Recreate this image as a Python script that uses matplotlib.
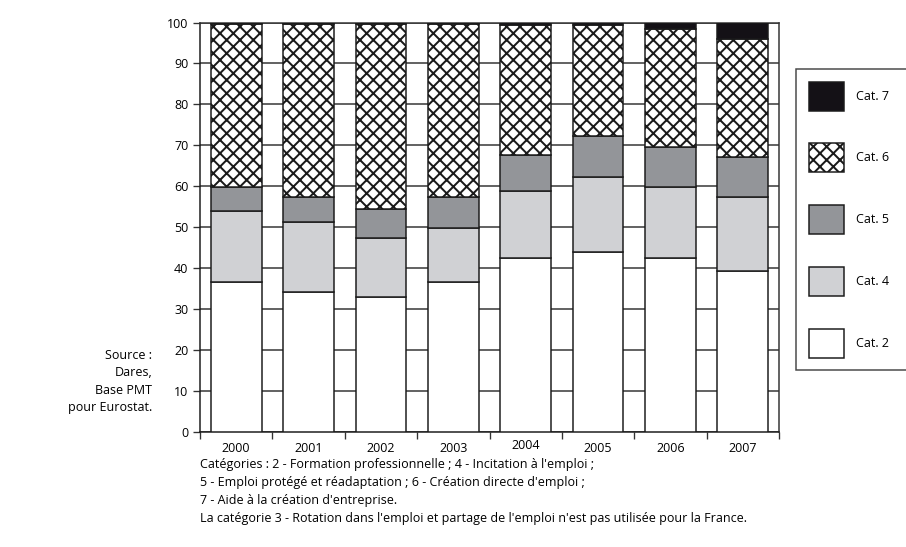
import numpy as np
import matplotlib
matplotlib.use("Agg")
import matplotlib.pyplot as plt

years = ["2000", "2001", "2002", "2003", "2004", "2005", "2006", "2007"]
cat2 = [36.7, 34.3, 32.9, 36.7, 42.6, 43.9, 42.6, 39.2]
cat4 = [17.3, 16.9, 14.4, 13.0, 16.3, 18.4, 17.2, 18.3]
cat5 = [5.9, 6.3, 7.2, 7.6, 8.7, 10.1, 9.8, 9.7]
cat6 = [39.7, 42.2, 45.2, 42.4, 31.9, 27.1, 28.7, 28.7]
cat7 = [0.4, 0.3, 0.3, 0.3, 0.5, 0.5, 1.7, 4.1]

plt.rcParams['font.family'] = ['Open Sans', 'DejaVu Sans']
plt.rcParams['hatch.linewidth'] = 1.2
plt.rcParams['hatch.color'] = '#1a1a1a'

fs = 7.5
fig = plt.figure(figsize=(906 / 120, 547 / 120), dpi=120)
ax = fig.add_axes([200 / 906, 1 - 432 / 547, 579 / 906, 409.5 / 547])

x = np.arange(len(years))
w = 0.7
ec = '#1a1a1a'
series = [
    (cat2, dict(color='white'), 'Cat. 2'),
    (cat4, dict(color='#d0d1d4'), 'Cat. 4'),
    (cat5, dict(color='#939599'), 'Cat. 5'),
    (cat6, dict(color='white', hatch='xxx'), 'Cat. 6'),
    (cat7, dict(color='#141116'), 'Cat. 7'),
]
bottom = np.zeros(len(years))
handles = []
for vals, style, lab in series:
    b = ax.bar(x, vals, w, bottom=bottom, edgecolor=ec, linewidth=0.9,
               label=lab, zorder=3, **style)
    handles.append(b)
    bottom += np.array(vals)

ax.set_xlim(-0.5, len(years) - 0.5)
ax.set_ylim(0, 100)
ax.set_yticks(np.arange(0, 101, 10))
ax.yaxis.grid(True, color='#333333', linewidth=0.9, zorder=0)
ax.set_axisbelow(True)
ax.tick_params(axis='y', direction='out', length=4, width=0.8, labelsize=fs,
               pad=3, color='#333333')

ax.set_xticks(np.arange(-0.5, len(years), 1))
ax.set_xticklabels([])
ax.set_xticks(x, minor=True)
ax.set_xticklabels(years, minor=True)
ax.tick_params(axis='x', which='major', direction='out', length=4, width=0.8,
               color='#333333')
ax.tick_params(axis='x', which='minor', length=0, labelsize=fs, pad=6)
# 2004 label sits a little higher in the original
for t in ax.xaxis.get_minorticklabels():
    if t.get_text() == "2004":
        t.set_y(0.008)

for s in ax.spines.values():
    s.set_color('#333333')
    s.set_linewidth(0.9)
ax.spines['left'].set_color('#1a1a1a')
ax.spines['bottom'].set_color('#1a1a1a')

leg = fig.legend(handles[::-1], [h.get_label() for h in handles[::-1]],
                 loc='upper left',
                 bbox_to_anchor=(796 / 906, 0, 118 / 906, 1 - 69 / 547),
                 mode='expand',
                 borderaxespad=0, fontsize=fs, frameon=True, fancybox=False,
                 edgecolor='#1a1a1a', handlelength=2.8, handleheight=3.2,
                 labelspacing=2.62, borderpad=1.0, handletextpad=1.0)
leg.get_frame().set_linewidth(0.9)

src = "Source :\nDares,\nBase PMT\npour Eurostat."
fig.text(152 / 906, 1 - 349 / 547, src, ha='right', va='top', fontsize=fs,
         linespacing=1.45)

cap = ("Catégories : 2 - Formation professionnelle ; 4 - Incitation à l'emploi ;\n"
       "5 - Emploi protégé et réadaptation ; 6 - Création directe d'emploi ;\n"
       "7 - Aide à la création d'entreprise.\n"
       "La catégorie 3 - Rotation dans l'emploi et partage de l'emploi n'est pas utilisée pour la France.")
fig.text(200 / 906, 1 - 458 / 547, cap, ha='left', va='top', fontsize=fs,
         linespacing=1.5)

fig.savefig("out.png", dpi=120)
